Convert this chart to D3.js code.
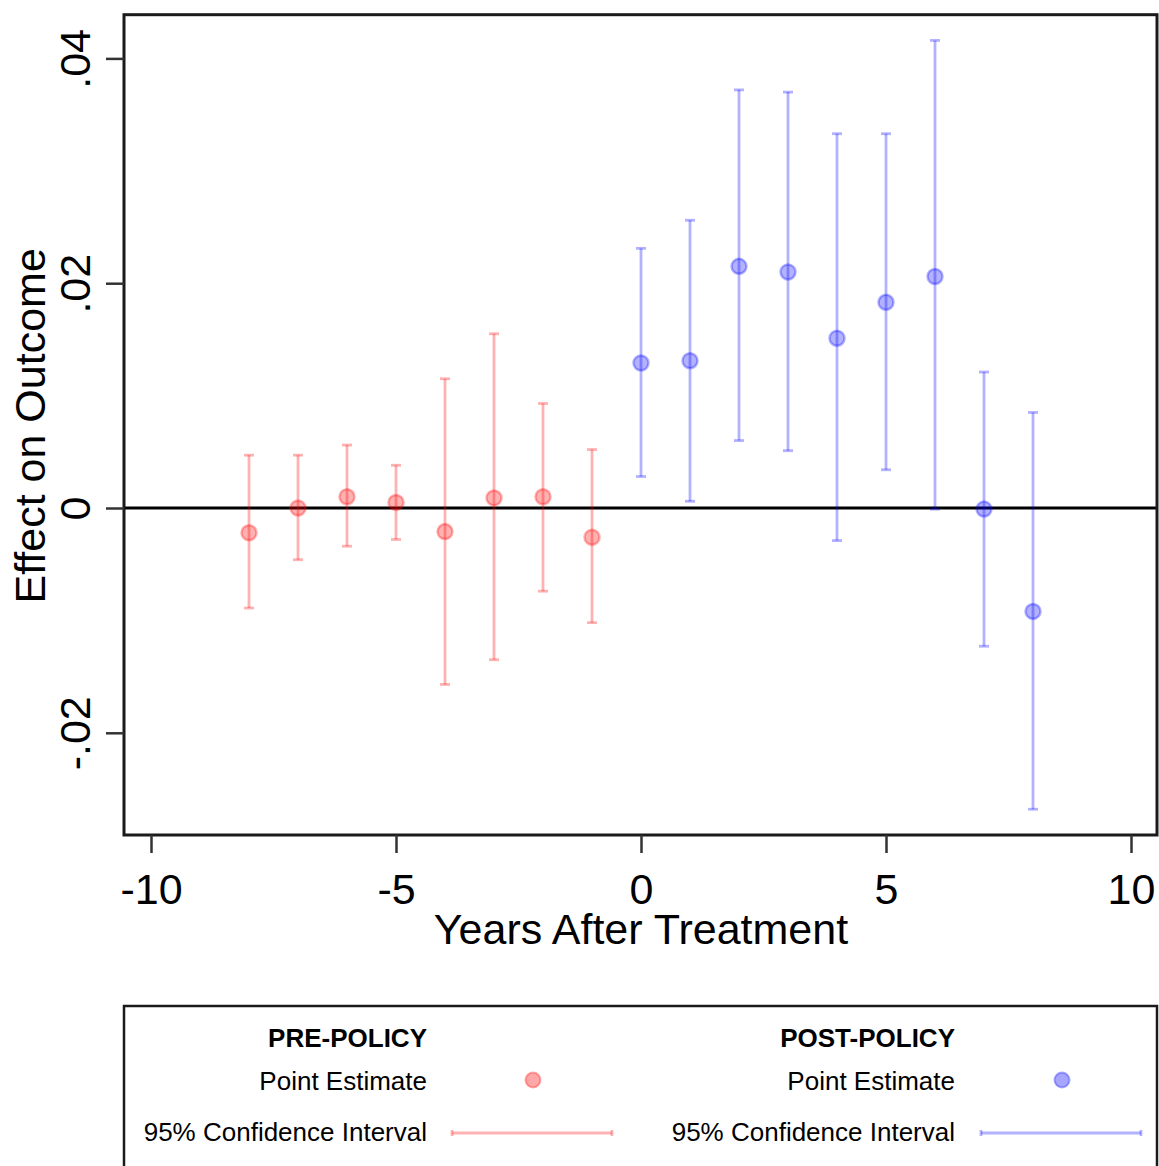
<!DOCTYPE html>
<html>
<head>
<meta charset="utf-8">
<script src="https://cdn.jsdelivr.net/npm/d3@7"></script>
<style>
  html, body { margin: 0; padding: 0; background: #fff; }
  svg { display: block; font-family: "Liberation Sans", Arial, sans-serif; }
</style>
</head>
<body>
<div id="chart"></div>
<script>
// ---- data ----
const preYears  = [-8, -7, -6, -5, -4, -3, -2, -1];
const preEst    = [-0.0022, 0.0000, 0.0010, 0.0005, -0.0021, 0.0009, 0.0010, -0.0026];
const preLo     = [-0.0089, -0.0046, -0.0034, -0.0028, -0.0157, -0.0135, -0.0074, -0.0102];
const preHi     = [0.0047, 0.0047, 0.0056, 0.0038, 0.0115, 0.0155, 0.0093, 0.0052];

const postYears = [0, 1, 2, 3, 4, 5, 6, 7, 8];
const postEst   = [0.0129, 0.0131, 0.0215, 0.0210, 0.0151, 0.0183, 0.0206, -0.0001, -0.0092];
const postLo    = [0.0028, 0.0006, 0.0060, 0.0051, -0.0029, 0.0034, -0.0001, -0.0123, -0.0268];
const postHi    = [0.0231, 0.0256, 0.0372, 0.0370, 0.0333, 0.0333, 0.0416, 0.0121, 0.0085];

const xTicks = [-10, -5, 0, 5, 10];
const yTicks = [-0.02, 0, 0.02, 0.04];
const yTickLabels = ["-.02", "0", ".02", ".04"];

const xTitle = "Years After Treatment";
const yTitle = "Effect on Outcome";
const groupNames = ["PRE-POLICY", "POST-POLICY"];
const legendLabels = ["Point Estimate", "95% Confidence Interval"];

// ---- layout ----
const W = 1159, H = 1166;
const frame = { left: 124, top: 14.7, right: 1157, bottom: 835 };
const redCol = "rgb(255,0,0)", blueCol = "rgb(0,0,255)", alpha = 0.3;

const svg = d3.select("#chart").append("svg").attr("width", W).attr("height", H);
svg.append("rect").attr("width", W).attr("height", H).attr("fill", "#fff");

const x = d3.scaleLinear().domain([-10, 10]).range([151, 1131]);
const y = d3.scaleLinear().domain([-0.02, 0.04]).range([732.8, 58.4]);

// zero line
svg.append("line")
  .attr("x1", frame.left).attr("x2", frame.right)
  .attr("y1", y(0)).attr("y2", y(0))
  .attr("stroke", "#000").attr("stroke-width", 3);

function drawSeries(years, est, lo, hi, col) {
  const data = years.map((d, i) => ({ t: d, e: est[i], l: lo[i], h: hi[i] }));
  const g = svg.append("g");
  const common = s => s.attr("stroke", col).attr("stroke-opacity", alpha).attr("stroke-width", 2.8);
  common(g.selectAll("line.ci").data(data).join("line").attr("class", "ci")
    .attr("x1", d => x(d.t)).attr("x2", d => x(d.t))
    .attr("y1", d => y(d.l)).attr("y2", d => y(d.h)));
  common(g.selectAll("line.capL").data(data).join("line").attr("class", "capL")
    .attr("x1", d => x(d.t) - 5).attr("x2", d => x(d.t) + 5)
    .attr("y1", d => y(d.l)).attr("y2", d => y(d.l)));
  common(g.selectAll("line.capH").data(data).join("line").attr("class", "capH")
    .attr("x1", d => x(d.t) - 5).attr("x2", d => x(d.t) + 5)
    .attr("y1", d => y(d.h)).attr("y2", d => y(d.h)));
  g.selectAll("circle").data(data).join("circle")
    .attr("cx", d => x(d.t)).attr("cy", d => y(d.e)).attr("r", 7.5)
    .attr("fill", col).attr("fill-opacity", alpha)
    .attr("stroke", col).attr("stroke-opacity", alpha).attr("stroke-width", 2.5);
}
drawSeries(preYears, preEst, preLo, preHi, redCol);
drawSeries(postYears, postEst, postLo, postHi, blueCol);

// frame
svg.append("rect")
  .attr("x", frame.left).attr("y", frame.top)
  .attr("width", frame.right - frame.left).attr("height", frame.bottom - frame.top)
  .attr("fill", "none").attr("stroke", "#1a1a1a").attr("stroke-width", 3);

// y axis
const yAxis = svg.append("g").attr("transform", `translate(${frame.left},0)`)
  .call(d3.axisLeft(y).tickValues(yTicks).tickSize(18)
    .tickFormat((d, i) => yTickLabels[i]));
yAxis.select(".domain").remove();
yAxis.selectAll(".tick line").attr("stroke", "#333").attr("stroke-width", 2.5);
yAxis.selectAll(".tick text")
  .attr("transform", "rotate(-90)")
  .attr("x", 0).attr("y", -34).attr("dy", 0)
  .attr("text-anchor", "middle")
  .attr("fill", "#000")
  .style("font-size", "43px")
  .style("font-family", "'Liberation Sans', Arial, sans-serif");

// x axis
const xAxis = svg.append("g").attr("transform", `translate(0,${frame.bottom})`)
  .call(d3.axisBottom(x).tickValues(xTicks).tickSize(18).tickFormat(d3.format("d")));
xAxis.select(".domain").remove();
xAxis.selectAll(".tick line").attr("stroke", "#333").attr("stroke-width", 2.5);
xAxis.selectAll(".tick text")
  .attr("y", 69).attr("dy", 0)
  .attr("fill", "#000")
  .style("font-size", "43px")
  .style("font-family", "'Liberation Sans', Arial, sans-serif")
  .text(d => d < 0 ? "-" + Math.abs(d) : String(d));

// axis titles
svg.append("text")
  .attr("x", x(0)).attr("y", 944)
  .attr("text-anchor", "middle")
  .style("font-size", "43px").attr("fill", "#000")
  .text(xTitle);
svg.append("text")
  .attr("transform", `translate(45,${(frame.top + frame.bottom) / 2 + 1}) rotate(-90)`)
  .attr("text-anchor", "middle")
  .style("font-size", "43px").attr("fill", "#000")
  .text(yTitle);

// legend
svg.append("rect")
  .attr("x", frame.left).attr("y", 1006)
  .attr("width", frame.right - frame.left).attr("height", 200)
  .attr("fill", "#fff").attr("stroke", "#1a1a1a").attr("stroke-width", 2.5);

const legendCols = [
  { textRight: 427, markerX: 533, lineX1: 452, lineX2: 612, col: redCol },
  { textRight: 955, markerX: 1062, lineX1: 981, lineX2: 1141, col: blueCol }
];
legendCols.forEach((c, i) => {
  const g = svg.append("g");
  g.append("text").attr("x", c.textRight).attr("y", 1047)
    .attr("text-anchor", "end").style("font-size", "26px").style("font-weight", "bold")
    .attr("fill", "#000").text(groupNames[i]);
  g.append("text").attr("x", c.textRight).attr("y", 1090)
    .attr("text-anchor", "end").style("font-size", "26px")
    .attr("fill", "#000").text(legendLabels[0]);
  g.append("text").attr("x", c.textRight).attr("y", 1141)
    .attr("text-anchor", "end").style("font-size", "26px")
    .attr("fill", "#000").text(legendLabels[1]);
  g.append("circle").attr("cx", c.markerX).attr("cy", 1080).attr("r", 7.5)
    .attr("fill", c.col).attr("fill-opacity", 0.35)
    .attr("stroke", c.col).attr("stroke-opacity", 0.3).attr("stroke-width", 2);
  g.append("line").attr("x1", c.lineX1).attr("x2", c.lineX2).attr("y1", 1133).attr("y2", 1133)
    .attr("stroke", c.col).attr("stroke-opacity", alpha).attr("stroke-width", 2.8);
  [c.lineX1, c.lineX2].forEach(px => {
    g.append("line").attr("x1", px).attr("x2", px).attr("y1", 1130).attr("y2", 1136)
      .attr("stroke", c.col).attr("stroke-opacity", alpha).attr("stroke-width", 2.8);
  });
});
</script>
</body>
</html>
